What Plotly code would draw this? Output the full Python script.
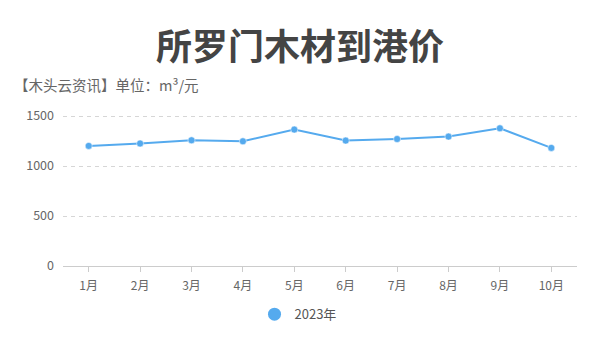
import plotly.graph_objects as go

months = ["1月", "2月", "3月", "4月", "5月", "6月", "7月", "8月", "9月", "10月"]
prices_2023 = [1201, 1225, 1257, 1247, 1364, 1254, 1270, 1294, 1377, 1181]
y_ticks = [0, 500, 1000, 1500]
series_name = "2023年"

title_text = "所罗门木材到港价"
subtitle_text = "【木头云资讯】单位：m³/元"

color = "#55AAEE"
font_family = "Noto Sans CJK SC, Microsoft YaHei, sans-serif"

fig = go.Figure()
fig.add_trace(go.Scatter(
    x=months, y=prices_2023, mode="lines+markers", name=series_name,
    line=dict(color=color, width=2), showlegend=False,
    marker=dict(color=color, size=7, line=dict(color="white", width=0.5)),
))
# legend-only entry showing just a circle
fig.add_trace(go.Scatter(
    x=[None], y=[None], mode="markers", name=series_name,
    marker=dict(color=color, size=13), showlegend=True,
))

top = 113.7
bottom = 88.5
plot_w = 600 - 63 - 23
plot_h = 355 - top - bottom

fig.update_layout(
    width=600, height=355,
    margin=dict(l=63, r=23, t=top, b=bottom),
    plot_bgcolor="white", paper_bgcolor="white",
    font=dict(family=font_family, color="#666", size=12),
    showlegend=True,
    legend=dict(orientation="h", x=0.5 - 22 / plot_w, xanchor="center",
                y=-(315 - (355 - bottom)) / plot_h, yanchor="middle",
                font=dict(size=13, color="#555"), itemsizing="trace", itemwidth=30),
    annotations=[
        dict(text="<b>" + title_text + "</b>", xref="paper", yref="paper",
             x=(300 - 63) / plot_w, y=(355 - bottom - 43) / plot_h,
             xanchor="center", yanchor="middle", showarrow=False,
             font=dict(size=36, color="#444", family=font_family)),
        dict(text=subtitle_text, xref="paper", yref="paper",
             x=(12 - 63) / plot_w, y=(355 - bottom - 84) / plot_h,
             xanchor="left", yanchor="middle", showarrow=False,
             font=dict(size=14.5, color="#666", family=font_family)),
    ],
)

fig.update_xaxes(
    type="category", range=[-0.5, 9.5],
    showgrid=False, showline=True, linecolor="#ccc", linewidth=1,
    ticks="outside", ticklen=5, tickcolor="#ccc", ticklabelstandoff=4,
    tickfont=dict(size=12, color="#666"), zeroline=False,
)
fig.update_yaxes(
    range=[0, 1520], tickvals=y_ticks,
    showgrid=True, gridcolor="#d6d6d6", griddash="4px,4px", gridwidth=1,
    showline=False, zeroline=False, ticks="", ticklabelstandoff=8,
    tickfont=dict(size=12.5, color="#666"),
)

fig.write_html("out.html")
